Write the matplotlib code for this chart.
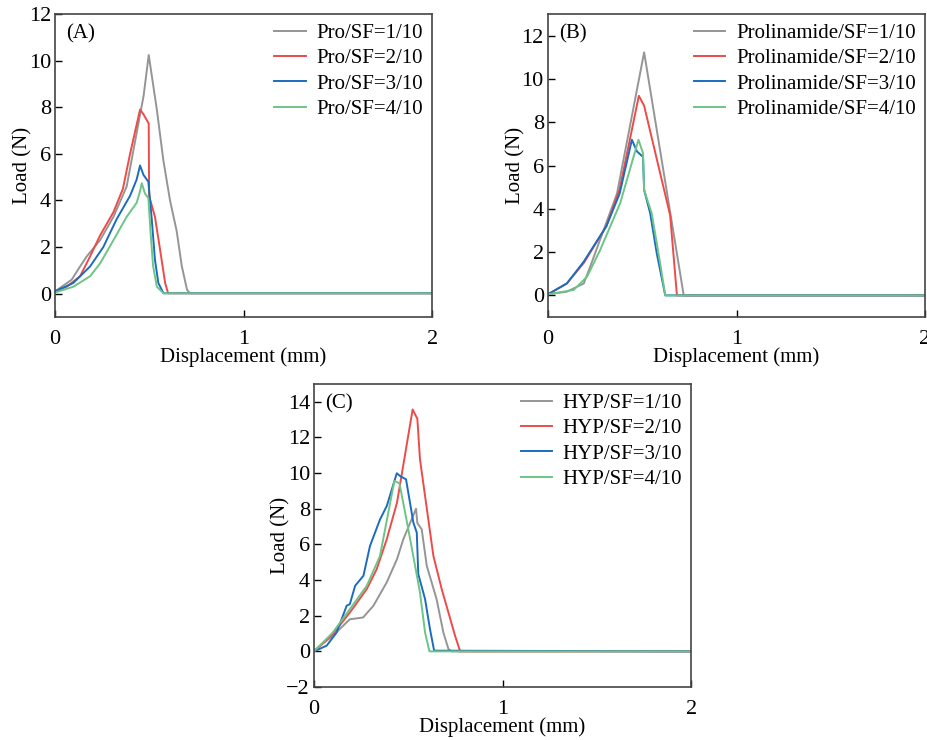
import matplotlib.pyplot as plt

plt.rcParams["font.family"] = ["Liberation Serif", "DejaVu Serif"]
plt.rcParams["font.size"] = 15
plt.rcParams["axes.unicode_minus"] = True

colors = ["#959595", "#ef4a4a", "#1b6cbf", "#6cc485"]

# Panel A: Pro/SF
a_labels = ["Pro/SF=1/10", "Pro/SF=2/10", "Pro/SF=3/10", "Pro/SF=4/10"]
a_x1 = [0, 0.088, 0.133, 0.168, 0.239, 0.31, 0.38, 0.433, 0.47, 0.497, 0.54, 0.575, 0.61, 0.645, 0.672, 0.70, 0.716, 2.0]
a_y1 = [0.1, 0.6, 1.17, 1.6, 2.3, 3.3, 4.6, 6.9, 8.5, 10.24, 7.9, 5.7, 4.0, 2.7, 1.2, 0.17, 0.02, 0.02]
a_x2 = [0, 0.062, 0.133, 0.186, 0.239, 0.31, 0.36, 0.398, 0.451, 0.469, 0.497, 0.499, 0.53, 0.557, 0.584, 0.60, 2.0]
a_y2 = [0.1, 0.3, 0.75, 1.6, 2.5, 3.5, 4.5, 6.0, 7.9, 7.7, 7.3, 4.2, 3.3, 1.9, 0.46, 0.02, 0.02]
a_x3 = [0, 0.097, 0.186, 0.256, 0.327, 0.398, 0.433, 0.451, 0.469, 0.495, 0.513, 0.53, 0.548, 0.575, 2.0]
a_y3 = [0.1, 0.46, 1.17, 2.0, 3.2, 4.2, 4.9, 5.5, 5.1, 4.8, 3.2, 1.46, 0.46, 0.02, 0.02]
a_x4 = [0, 0.097, 0.186, 0.239, 0.31, 0.38, 0.433, 0.451, 0.46, 0.477, 0.495, 0.507, 0.52, 0.54, 0.575, 2.0]
a_y4 = [0.05, 0.3, 0.75, 1.3, 2.3, 3.3, 3.9, 4.4, 4.74, 4.3, 4.1, 2.6, 1.2, 0.3, 0.02, 0.02]

# Panel B: Prolinamide/SF
b_labels = ["Prolinamide/SF=1/10", "Prolinamide/SF=2/10", "Prolinamide/SF=3/10", "Prolinamide/SF=4/10"]
b_x1 = [0, 0.10, 0.19, 0.224, 0.366, 0.51, 0.72, 2.0]
b_y1 = [0.05, 0.17, 0.55, 1.33, 4.7, 11.23, 0.0, 0.0]
b_x2 = [0, 0.10, 0.19, 0.31, 0.38, 0.482, 0.51, 0.648, 0.684, 2.0]
b_y2 = [0.05, 0.55, 1.5, 3.2, 4.9, 9.22, 8.76, 3.7, 0.0, 0.0]
b_x3 = [0, 0.10, 0.19, 0.31, 0.38, 0.445, 0.472, 0.504, 0.51, 0.542, 0.577, 0.622, 2.0]
b_y3 = [0.05, 0.55, 1.56, 3.2, 4.7, 7.19, 6.65, 6.4, 4.87, 3.8, 1.94, 0.0, 0.0]
b_x4 = [0, 0.136, 0.207, 0.277, 0.383, 0.48, 0.504, 0.51, 0.55, 0.595, 0.622, 2.0]
b_y4 = [0.05, 0.25, 0.86, 2.1, 4.26, 7.19, 6.57, 4.87, 3.8, 1.48, 0.0, 0.0]

# Panel C: HYP/SF
c_labels = ["HYP/SF=1/10", "HYP/SF=2/10", "HYP/SF=3/10", "HYP/SF=4/10"]
c_x1 = [0, 0.10, 0.19, 0.26, 0.315, 0.385, 0.44, 0.474, 0.541, 0.548, 0.571, 0.598, 0.65, 0.686, 0.713, 0.73, 2.0]
c_y1 = [0.04, 0.88, 1.8, 1.9, 2.56, 3.86, 5.17, 6.3, 8.0, 7.2, 6.85, 4.8, 2.93, 1.06, 0.13, 0.0, 0.0]
c_x2 = [0, 0.10, 0.19, 0.28, 0.332, 0.386, 0.44, 0.523, 0.548, 0.562, 0.633, 0.677, 0.748, 0.775, 2.0]
c_y2 = [0.0, 0.97, 2.18, 3.5, 4.6, 6.3, 8.34, 13.57, 13.05, 10.77, 5.36, 3.5, 0.88, 0.0, 0.0]
c_x3 = [0, 0.067, 0.12, 0.173, 0.19, 0.218, 0.262, 0.297, 0.35, 0.386, 0.439, 0.456, 0.488, 0.527, 0.545, 0.553, 0.589, 0.615, 0.637, 2.0]
c_y3 = [0.0, 0.32, 1.06, 2.56, 2.65, 3.68, 4.24, 5.92, 7.4, 8.16, 9.99, 9.84, 9.65, 7.22, 6.66, 4.33, 2.93, 1.25, 0.04, 0.0]
c_x4 = [0, 0.10, 0.19, 0.28, 0.35, 0.426, 0.453, 0.49, 0.536, 0.562, 0.589, 0.612, 2.0]
c_y4 = [0.0, 1.06, 2.37, 3.68, 5.36, 9.56, 9.43, 7.41, 4.8, 3.3, 1.06, 0.0, 0.0]


def draw_panel(ax, xs, ys, labels, tag, ylim, yticks):
    for x, y, lab, c in zip(xs, ys, labels, colors):
        ax.plot(x, y, color=c, lw=1.4, label=lab)
    ax.set_xlim(0, 2)
    ax.set_ylim(*ylim)
    ax.set_xticks([0, 1, 2])
    ax.set_yticks(yticks)
    ax.tick_params(direction="in", length=5, width=1, top=False, right=False, labelsize=16)
    ax.tick_params(axis="x", pad=9)
    ax.tick_params(axis="y", pad=3)
    for s in ax.spines.values():
        s.set_color("#444444")
        s.set_linewidth(1.2)
    ax.set_xlabel("Displacement (mm)", labelpad=-1)
    ax.set_ylabel("Load (N)", labelpad=-3)
    ax.text(0.03, 0.935, tag, transform=ax.transAxes, va="center", ha="left")
    ax.legend(loc="upper right", frameon=False, handlelength=1.5, handletextpad=0.5,
              labelspacing=0.28, borderaxespad=0.2, borderpad=0.25)


fig = plt.figure(figsize=(9.28, 7.40), dpi=100)
ax_a = fig.add_axes([0.0593, 0.5716, 0.4063, 0.4095])
ax_b = fig.add_axes([0.5905, 0.5716, 0.4063, 0.4095])
ax_c = fig.add_axes([0.3384, 0.0716, 0.4063, 0.4095])

draw_panel(ax_a, [a_x1, a_x2, a_x3, a_x4], [a_y1, a_y2, a_y3, a_y4], a_labels, "(A)",
           (-1, 12), range(0, 13, 2))
draw_panel(ax_b, [b_x1, b_x2, b_x3, b_x4], [b_y1, b_y2, b_y3, b_y4], b_labels, "(B)",
           (-1, 13), range(0, 13, 2))
draw_panel(ax_c, [c_x1, c_x2, c_x3, c_x4], [c_y1, c_y2, c_y3, c_y4], c_labels, "(C)",
           (-2, 15), range(-2, 15, 2))

plt.savefig("out.png", dpi=100)
